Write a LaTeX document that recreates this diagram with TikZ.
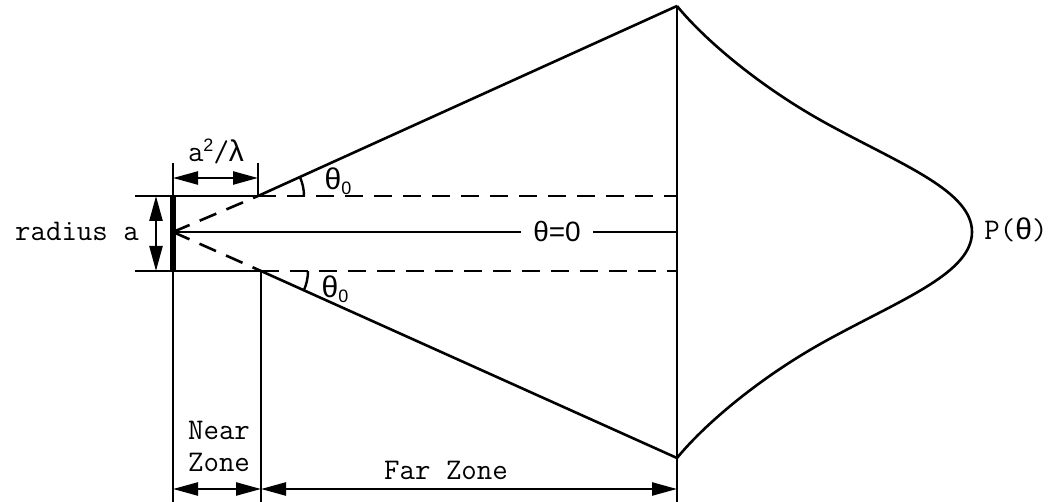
\documentclass[tikz,border=0pt]{standalone}
\usepackage{fontspec}
\newfontfamily\gkfont{Liberation Sans}
\usetikzlibrary{arrows.meta}
\begin{document}
\begin{tikzpicture}[x=1pt,y=-1pt,line width=2.6pt,
  lbl/.style={font=\ttfamily\addfontfeatures{LetterSpace=4}\fontsize{30}{32}\selectfont,inner sep=0pt},
  gk/.style={font=\gkfont\fontsize{28}{30}\selectfont,inner sep=0pt},
  dimline/.style={{Triangle[length=25pt,width=13pt]}-{Triangle[length=25pt,width=13pt]},line width=2.4pt},
  dsh/.style={dash pattern=on 18pt off 11pt}]
\newcommand{\gth}{{\gkfont θ}}
\newcommand{\glam}{{\gkfont λ}}
\newcommand{\gsub}{\raisebox{-5pt}{\gkfont\fontsize{18}{20}\selectfont 0}}
\useasboundingbox (0,0) rectangle (1050,502);
% coordinates
\coordinate (apex) at (173,232);
\coordinate (aptop) at (173,196);
\coordinate (apbot) at (173,271);
\coordinate (ltop) at (173,163);
\coordinate (lbot) at (173,502);
\coordinate (htl) at (135,196);
\coordinate (hbl) at (135,271);
\coordinate (ntop) at (258,196);
\coordinate (nbot) at (261,271);
\coordinate (ntick) at (258,163);
\coordinate (nlow) at (261,502);
\coordinate (ttip) at (677,6);
\coordinate (btip) at (677,458);
\coordinate (fbot) at (677,502);
\coordinate (fctr) at (677,232);
\coordinate (ftop) at (677,196);
\coordinate (fdb) at (677,271);
\coordinate (peak) at (972,232);
\coordinate (ra1) at (156,196);
\coordinate (ra2) at (156,271);
\coordinate (al1) at (173,178);
\coordinate (al2) at (258,178);
\coordinate (nz1) at (173,489);
\coordinate (nz2) at (261,489);
\coordinate (fz2) at (677,489);
% aperture
\draw[line width=6pt] (aptop) -- (apbot);
\draw (ltop) -- (lbot);
\draw (htl) -- (ntop);
\draw (hbl) -- (nbot);
\draw (ntick) -- (ntop);
\draw (nbot) -- (nlow);
\draw (ttip) -- (fbot);
% dashed
\draw[dsh] (apex) -- (ntop);
\draw[dsh] (apex) -- (nbot);
\draw[dsh] (ntop) -- (ftop);
\draw[dsh] (nbot) -- (fdb);
% cone
\draw (ntop) -- (ttip);
\draw (nbot) -- (btip);
% angle arcs
\draw[line width=2.4pt] (ntop) ++(46,0) arc[start angle=0,end angle=-24.4,radius=46];
\draw[line width=2.4pt] (nbot) ++(47,0) arc[start angle=0,end angle=24.2,radius=47];
% centre line with label
\node[gk,inner xsep=11pt,anchor=base] (th0) at (557,242) {θ=0};
\draw (apex) -- (apex -| th0.west);
\draw (fctr -| th0.east) -- (fctr);
% labels
\node[lbl] (rad) at (77,231) {radius a};
\node[lbl] (a2l) at (216,151) {a\raisebox{10pt}{\gkfont\fontsize{18}{20}\selectfont 2}/\glam};
\node[lbl] (t0top) at (338,181) {\gth\gsub};
\node[lbl] (t0bot) at (335,289) {\gth\gsub};
\node[lbl] (ptheta) at (1016,230) {P(\gth)};
\node[lbl,align=center] (near) at (219,446) {Near\\Zone};
\node[lbl] (far) at (446,470) {Far Zone};
% dimension arrows
\draw[dimline] (ra1) -- (ra2);
\draw[dimline] (al1) -- (al2);
\draw[dimline] (nz1) -- (nz2);
\draw[dimline] (nz2) -- (fz2);
% pattern curve
\draw (ttip) .. controls (703,38) and (760,88) .. (833,127)
  .. controls (905,166) and (972,192) .. (peak)
  .. controls (972,272) and (905,298) .. (833,337)
  .. controls (760,376) and (703,426) .. (btip);
\end{tikzpicture}
\end{document}
